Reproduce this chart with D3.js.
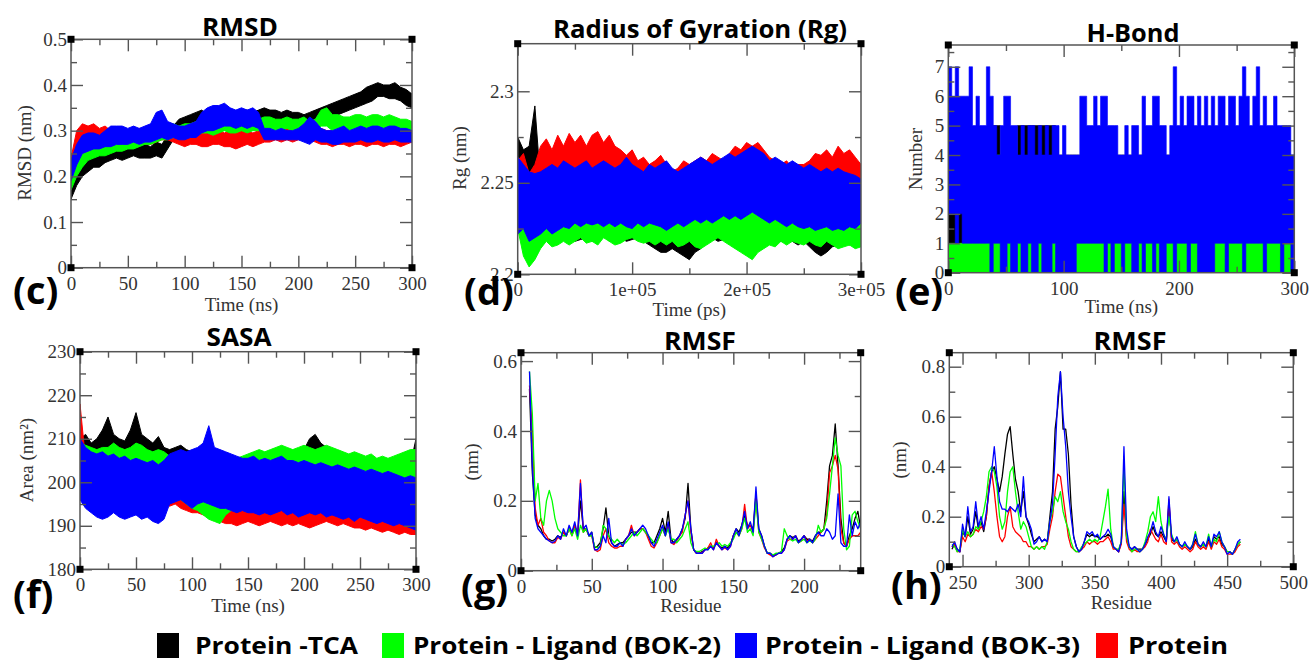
<!DOCTYPE html>
<html>
<head>
<meta charset="utf-8">
<script src="https://cdn.jsdelivr.net/npm/d3@7/dist/d3.min.js"></script>
<style>
  body { margin: 0; background: #fff; }
  svg { display: block; }
</style>
</head>
<body>
<svg id="fig" width="1311" height="662"></svg>
<script>
// series (legend order) and colours
var seriesNames = ["Protein -TCA", "Protein - Ligand (BOK-2)", "Protein - Ligand (BOK-3)", "Protein"];
var seriesColors = ["#000000", "#00ff00", "#0000ff", "#ff0000"];

// ---------- RMSD (nm), band low / high every 5 ns ----------
var rmsdStep = 5;
var rmsdTcaLo = [0.15,0.18,0.2,0.21,0.22,0.22,0.23,0.235,0.24,0.235, 0.24,0.245,0.24,0.24,0.24,0.245,0.24,0.26,0.28,0.29, 0.3,0.305,0.31,0.31,0.305,0.31,0.31,0.31,0.315,0.31, 0.31,0.315,0.31,0.315,0.315,0.32,0.315,0.31,0.315,0.31, 0.31,0.305,0.31,0.315,0.32,0.325,0.33,0.335,0.34,0.345, 0.35,0.355,0.36,0.365,0.375,0.375,0.37,0.37,0.365,0.355, 0.35];
var rmsdTcaHi = [0.2,0.22,0.24,0.245,0.26,0.255,0.26,0.265,0.27,0.26, 0.27,0.275,0.27,0.27,0.265,0.275,0.27,0.29,0.31,0.325, 0.33,0.335,0.34,0.345,0.335,0.34,0.345,0.34,0.345,0.34, 0.345,0.345,0.34,0.345,0.35,0.345,0.345,0.34,0.345,0.34, 0.34,0.335,0.34,0.345,0.35,0.355,0.36,0.365,0.37,0.375, 0.38,0.385,0.395,0.4,0.405,0.4,0.4,0.405,0.395,0.39, 0.38];
var rmsdBok2Lo = [0.17,0.2,0.22,0.235,0.24,0.245,0.245,0.25,0.255,0.255, 0.26,0.26,0.265,0.27,0.27,0.275,0.28,0.28,0.285,0.285, 0.29,0.29,0.29,0.295,0.295,0.29,0.295,0.3,0.295,0.295, 0.3,0.295,0.3,0.3,0.3,0.305,0.3,0.3,0.305,0.3, 0.3,0.3,0.295,0.3,0.31,0.31,0.3,0.305,0.305,0.3, 0.305,0.305,0.3,0.305,0.305,0.3,0.305,0.3,0.3,0.3, 0.3];
var rmsdBok2Hi = [0.22,0.25,0.26,0.27,0.275,0.28,0.275,0.28,0.285,0.285, 0.29,0.29,0.295,0.3,0.3,0.3,0.31,0.315,0.315,0.31, 0.315,0.315,0.32,0.32,0.32,0.315,0.32,0.325,0.32,0.32, 0.325,0.32,0.325,0.325,0.33,0.33,0.325,0.325,0.33,0.325, 0.325,0.33,0.32,0.325,0.345,0.35,0.335,0.335,0.33,0.33, 0.335,0.335,0.33,0.335,0.335,0.33,0.335,0.33,0.325,0.325, 0.32];
var rmsdBok3Lo = [0.19,0.225,0.25,0.255,0.26,0.26,0.265,0.265,0.27,0.27, 0.27,0.275,0.27,0.275,0.275,0.28,0.285,0.28,0.285,0.28, 0.28,0.285,0.285,0.295,0.3,0.3,0.305,0.31,0.31,0.305, 0.31,0.305,0.31,0.305,0.28,0.28,0.28,0.28,0.28,0.28, 0.28,0.275,0.27,0.28,0.275,0.275,0.27,0.27,0.275,0.275, 0.275,0.28,0.275,0.275,0.28,0.275,0.275,0.28,0.275,0.275, 0.275];
var rmsdBok3Hi = [0.235,0.27,0.29,0.295,0.295,0.29,0.3,0.31,0.31,0.31, 0.305,0.31,0.305,0.31,0.315,0.34,0.345,0.32,0.315,0.31, 0.31,0.315,0.32,0.34,0.35,0.355,0.355,0.36,0.35,0.345, 0.35,0.345,0.35,0.34,0.305,0.305,0.3,0.305,0.3,0.3, 0.305,0.315,0.33,0.32,0.305,0.3,0.3,0.305,0.31,0.3, 0.305,0.31,0.305,0.31,0.31,0.305,0.31,0.31,0.305,0.305, 0.3];
var rmsdProtLo = [0.21,0.24,0.26,0.265,0.26,0.255,0.26,0.265,0.27,0.27, 0.275,0.27,0.275,0.27,0.27,0.275,0.28,0.28,0.275,0.27, 0.265,0.27,0.27,0.265,0.265,0.27,0.27,0.265,0.265,0.26, 0.265,0.27,0.265,0.27,0.275,0.275,0.28,0.275,0.28,0.275, 0.28,0.28,0.28,0.275,0.27,0.27,0.265,0.27,0.27,0.265, 0.27,0.27,0.265,0.27,0.27,0.265,0.27,0.27,0.265,0.27, 0.275];
var rmsdProtHi = [0.24,0.3,0.315,0.31,0.315,0.305,0.31,0.3,0.3,0.305, 0.3,0.3,0.305,0.3,0.3,0.31,0.31,0.305,0.3,0.3, 0.295,0.3,0.3,0.3,0.295,0.3,0.3,0.295,0.3,0.295, 0.3,0.3,0.295,0.3,0.3,0.3,0.3,0.3,0.305,0.3, 0.305,0.31,0.305,0.3,0.305,0.3,0.3,0.3,0.305,0.3, 0.3,0.305,0.3,0.3,0.305,0.3,0.3,0.3,0.305,0.3, 0.3];

// ---------- Radius of gyration (nm), band low / high every 5000 ps ----------
var rgStep = 5000;
var rgTcaLo = [2.228,2.225,2.23,2.235,2.225,2.222,2.22,2.218,2.219,2.22, 2.218,2.219,2.22,2.218,2.22,2.222,2.218,2.219,2.22,2.218, 2.219,2.22,2.218,2.216,2.214,2.212,2.212,2.214,2.212,2.21, 2.208,2.212,2.214,2.218,2.22,2.218,2.219,2.22,2.218,2.22, 2.222,2.22,2.218,2.22,2.218,2.219,2.218,2.22,2.218,2.216, 2.218,2.215,2.212,2.21,2.212,2.215,2.216,2.218,2.216,2.218, 2.22];
var rgTcaHi = [2.275,2.268,2.27,2.292,2.25,2.245,2.242,2.244,2.242,2.244, 2.243,2.245,2.244,2.242,2.244,2.243,2.245,2.244,2.242,2.243, 2.244,2.242,2.243,2.24,2.238,2.236,2.235,2.236,2.236,2.234, 2.235,2.238,2.24,2.242,2.244,2.243,2.244,2.245,2.244,2.246, 2.248,2.246,2.244,2.245,2.243,2.244,2.243,2.244,2.242,2.24, 2.241,2.24,2.238,2.236,2.238,2.24,2.242,2.244,2.245,2.246, 2.25];
var rgBok2Lo = [2.225,2.21,2.204,2.208,2.214,2.218,2.215,2.216,2.218,2.216, 2.218,2.22,2.217,2.218,2.216,2.22,2.218,2.216,2.217,2.219, 2.22,2.218,2.217,2.218,2.216,2.218,2.216,2.218,2.215,2.216, 2.218,2.215,2.214,2.216,2.218,2.22,2.218,2.216,2.214,2.212, 2.21,2.208,2.212,2.214,2.216,2.215,2.218,2.216,2.218,2.217, 2.216,2.218,2.216,2.215,2.218,2.216,2.214,2.215,2.216,2.214, 2.215];
var rgBok2Hi = [2.25,2.255,2.24,2.238,2.236,2.238,2.234,2.235,2.236,2.238, 2.236,2.235,2.237,2.238,2.236,2.235,2.238,2.236,2.234,2.236, 2.238,2.24,2.238,2.236,2.237,2.24,2.236,2.235,2.234,2.236, 2.235,2.236,2.238,2.24,2.236,2.238,2.236,2.235,2.238,2.24, 2.242,2.244,2.242,2.24,2.238,2.236,2.238,2.236,2.238,2.235, 2.236,2.238,2.236,2.235,2.238,2.236,2.234,2.236,2.235,2.234, 2.236];
var rgBok3Lo = [2.222,2.225,2.218,2.22,2.222,2.225,2.222,2.224,2.226,2.225, 2.228,2.226,2.228,2.227,2.228,2.226,2.228,2.226,2.228,2.226, 2.225,2.228,2.226,2.228,2.227,2.226,2.224,2.226,2.228,2.226, 2.228,2.23,2.228,2.23,2.228,2.23,2.232,2.23,2.232,2.23, 2.232,2.234,2.232,2.23,2.228,2.23,2.228,2.226,2.228,2.226, 2.225,2.226,2.224,2.225,2.226,2.224,2.225,2.224,2.226,2.225, 2.228];
var rgBok3Hi = [2.264,2.26,2.256,2.255,2.256,2.258,2.26,2.258,2.262,2.26, 2.258,2.26,2.262,2.258,2.26,2.262,2.26,2.258,2.26,2.264, 2.26,2.258,2.256,2.26,2.258,2.26,2.262,2.258,2.256,2.258, 2.26,2.262,2.264,2.262,2.26,2.262,2.264,2.266,2.264,2.266, 2.268,2.27,2.268,2.266,2.262,2.264,2.262,2.26,2.262,2.26, 2.258,2.26,2.258,2.256,2.258,2.256,2.258,2.256,2.255,2.254, 2.252];
var rgProtLo = [2.238,2.242,2.24,2.244,2.246,2.245,2.244,2.246,2.245,2.246, 2.244,2.245,2.244,2.243,2.245,2.244,2.242,2.243,2.242,2.24, 2.241,2.24,2.24,2.238,2.24,2.239,2.238,2.236,2.238,2.24, 2.238,2.24,2.242,2.24,2.242,2.244,2.243,2.244,2.246,2.245, 2.248,2.246,2.245,2.244,2.242,2.24,2.241,2.24,2.24,2.238, 2.24,2.241,2.242,2.244,2.245,2.244,2.246,2.245,2.244,2.242, 2.24];
var rgProtHi = [2.262,2.266,2.255,2.26,2.27,2.274,2.268,2.276,2.27,2.277, 2.272,2.276,2.27,2.276,2.278,2.272,2.276,2.27,2.268,2.265, 2.268,2.262,2.264,2.26,2.262,2.265,2.26,2.256,2.258,2.262, 2.26,2.262,2.264,2.262,2.266,2.264,2.262,2.266,2.27,2.268, 2.272,2.27,2.272,2.268,2.264,2.262,2.26,2.262,2.258,2.26, 2.26,2.262,2.266,2.265,2.268,2.264,2.27,2.266,2.268,2.264, 2.26];

// ---------- H-bond number, low / high per 3 ns bin ----------
var hbStep = 3;
var hbTcaLo = [1,1,1,1,1,1,1,1,1,1, 1,1,1,1,1,1,1,1,1,1, 1,1,1,1,1,1,1,1,1,1, 1,1,1,1,1,1,1,1,1,1, 1,1,1,1,1,1,1,1,1,1, 1,1,1,1,1,1,1,1,1,1, 1,1,1,1,1,1,1,1,1,1, 1,1,1,1,1,1,1,1,1,1, 1,1,1,1,1,1,1,1,1,1, 1,1,1,1,1,1,1,1,1,1];
var hbTcaHi = [4,4,4,4,4,4,4,4,4,4, 4,4,4,5,5,4,4,4,4,4, 5,5,5,5,5,5,5,5,5,5, 5,4,4,4,4,4,4,4,4,4, 4,4,4,4,4,4,4,4,4,4, 4,4,4,4,4,4,4,4,4,4, 4,4,4,4,4,4,4,4,4,4, 4,4,4,4,4,4,4,4,4,4, 4,4,4,4,4,4,4,4,4,4, 4,4,4,4,4,4,4,4,4,4];
var hbBok2Lo = [0,0,0,0,0,0,0,0,0,0, 0,0,0,0,0,0,0,0,0,0, 0,0,0,0,0,0,0,0,0,0, 0,0,0,0,0,0,0,0,0,0, 0,0,0,0,0,0,0,0,0,0, 0,0,0,0,0,0,0,0,0,0, 0,0,0,0,0,0,0,0,0,0, 0,0,0,0,0,0,0,0,0,0, 0,0,0,0,0,0,0,0,0,0, 0,0,0,0,0,0,0,0,0,0];
var hbBok2Hi = [1,1,1,1,1,1,1,1,1,1, 1,2,1,1,4,1,1,1,1,1, 1,1,1,1,1,1,1,1,1,1, 1,1,1,1,1,1,1,1,1,1, 1,1,1,1,1,1,1,1,1,1, 1,1,1,1,1,1,1,1,1,1, 1,1,1,1,1,1,1,1,1,1, 1,1,1,1,1,1,1,1,1,1, 1,1,1,1,1,1,1,1,1,1, 1,1,1,1,1,1,1,1,1,1];
var hbBok3Lo = [2,2,1,2,1,1,1,1,1,1, 1,1,0,1,1,0,0,1,0,0, 1,0,0,1,0,0,1,0,0,0, 1,0,0,0,0,0,0,1,1,1, 1,1,1,1,1,0,1,0,1,1, 0,1,1,0,0,1,0,1,1,0, 1,0,0,1,1,0,1,1,1,0, 1,1,0,0,0,0,0,1,1,1, 0,1,1,1,1,0,1,1,1,1, 1,0,1,1,1,1,0,1,1,0];
var hbBok3Hi = [7,6,7,6,6,6,7,5,6,5, 5,7,6,5,4,5,6,6,5,5, 4,5,4,5,5,4,5,4,5,4, 5,5,4,5,4,4,4,4,6,6, 5,5,6,5,6,6,5,5,5,4, 4,5,4,5,5,4,6,5,5,6, 6,5,5,4,5,7,5,6,5,6, 6,5,6,5,6,5,6,5,6,6, 5,6,6,5,6,7,6,5,6,7, 5,6,5,5,6,5,5,5,5,4];

// ---------- SASA (nm^2), band low / high every 5 ns ----------
var sasaStep = 5;
var sasaTcaLo = [200,199,198,198.5,199,198.5,199,198,198.5,198, 198.5,198,198.5,198,197.5,197,196.5,196,196.5,196, 195.5,195,194.5,194,194,193.5,193.5,192.5,192,192.5, 192,191.5,192,193,193.5,194,194.5,195,195.5,196, 196,196.5,197,196.5,196,195.5,195,195,194.5,194, 193.5,193,192.5,192,192.5,191.5,191,190.5,190,189.5, 192];
var sasaTcaHi = [210,211,209,210,212,215,211,210,209.5,212, 216,211,210,209,210.5,208,207.5,208,208.5,207.5, 207,207.5,207,208,207.5,206,205.5,206,205,205.5, 206,206.5,206,206.5,205.5,206,206.5,206,206.5,207, 207.5,210,211,209,208,206.5,206,205.5,205,205.5, 204.5,204,204.5,204,203.5,204,204.5,205,205.5,204, 210];
var sasaBok2Lo = [199,197,196,195.5,195,194.5,195,194.5,195,195.5, 196,196.5,196,196.5,197,196.5,197,196.5,196,195, 194,193.5,192.5,191.5,191,190.5,192.5,193.5,194,194.5, 195,194.5,195,194.5,194,194.5,195,194.5,194,194.5, 194,193.5,194,193.5,193,193.5,193,192.5,193,192.5, 192,192.5,192,191.5,192,191.5,191,191.5,192,195, 196];
var sasaBok2Hi = [209,208.5,208,207.5,208,208,209,208,207.5,208, 209,208.5,207.5,207,207.5,207,206,206.5,207,206.5, 206,206.5,206,206.5,205.5,206,206.5,206,205.5,206, 206.5,207,207.5,207,207.5,208,208.5,208,207.5,208, 208.5,208,207.5,208,208.5,208,207.5,207,206.5,207, 206.5,206,206.5,205.5,206,205.5,206,206.5,207,207.5, 207.5];
var sasaBok3Lo = [196,194,193,192,191.5,192,193,192,191.5,192, 192.5,191.5,192,191,190.5,191.5,195,195.5,196,195, 194,195,195.5,195,194.5,194,194,193.5,193,193.5, 193,193,192.5,193,192.5,193,193.5,192.5,193,192, 192.5,193,192.5,193,192,192.5,192,191.5,192,191, 192,191.5,191,190.5,191,190.5,190,190.5,190,189.5, 189];
var sasaBok3Hi = [210,208,207,206.5,207,206,206.5,205.5,206,205, 205.5,205,204.5,205,204,205,206.5,207,207.5,207, 207.5,208,209,213,208,207.5,207,206.5,206,205.5, 205.5,206,205,205.5,205,205.5,206,205,205,204.5, 205,204.5,204,204.5,204,203.5,204,203.5,203,203.5, 203,202.5,203,202.5,202,202.5,202,201.5,201,201.5, 201];
var sasaProtLo = [202,196,194.5,194,193,193.5,194,193.5,194,194.5, 195,195.5,196,195.5,195,195.5,194.5,195,194,193.5, 193,193,192.5,192,191.5,191,190.5,190.5,190,190.5, 191,190.5,190,190.5,191,190.5,190,190.5,190,190.5, 190,189.5,190,190.5,191,190.5,190,190.5,190,189.5, 189.5,189,189.5,189,188.5,189,188.5,188,188.5,188, 188];
var sasaProtHi = [218,205,204,203.5,203,203.5,203,202.5,203,203.5, 204,203.5,203,203.5,203,202.5,203.5,204,206,205, 204.5,204,203.5,203,202.5,202,202.5,202,201.5,201, 201.5,201,200.5,201,200.5,200,200.5,200,200.5,201, 200.5,200,200.5,200,199.5,199,199.5,199,198.5,199, 198.5,198,198.5,198,197.5,197,197.5,197,196.5,196, 196];

// ---------- RMSF (g), residue 6..240 every 2 ----------
var gResStart = 6, gResStep = 2;
var gTca = [0.52,0.28,0.16,0.13,0.12,0.1,0.09,0.09,0.085,0.09, 0.1,0.095,0.11,0.1,0.12,0.11,0.13,0.1,0.2,0.12, 0.12,0.1,0.11,0.065,0.07,0.08,0.12,0.18,0.1,0.08, 0.07,0.075,0.08,0.08,0.09,0.1,0.11,0.11,0.11,0.12, 0.12,0.11,0.1,0.08,0.08,0.1,0.12,0.15,0.11,0.17, 0.09,0.08,0.09,0.1,0.12,0.15,0.25,0.12,0.06,0.05, 0.05,0.055,0.06,0.065,0.07,0.065,0.08,0.07,0.065,0.07, 0.065,0.075,0.1,0.12,0.11,0.13,0.16,0.13,0.13,0.12, 0.22,0.12,0.1,0.07,0.05,0.05,0.045,0.045,0.05,0.055, 0.065,0.09,0.1,0.095,0.1,0.085,0.09,0.1,0.09,0.09, 0.085,0.1,0.11,0.11,0.12,0.2,0.3,0.33,0.42,0.3, 0.15,0.08,0.07,0.1,0.12,0.15,0.17,0.12];
var gBok2 = [0.57,0.45,0.2,0.25,0.15,0.13,0.2,0.23,0.2,0.15, 0.12,0.11,0.1,0.1,0.12,0.1,0.12,0.09,0.13,0.11, 0.12,0.1,0.1,0.07,0.065,0.07,0.13,0.12,0.1,0.09, 0.08,0.09,0.08,0.075,0.08,0.09,0.1,0.11,0.1,0.11, 0.12,0.11,0.1,0.09,0.08,0.08,0.1,0.12,0.1,0.12, 0.09,0.09,0.08,0.09,0.1,0.12,0.14,0.08,0.06,0.055, 0.055,0.06,0.065,0.06,0.07,0.07,0.075,0.08,0.07,0.075, 0.07,0.08,0.09,0.11,0.1,0.12,0.15,0.11,0.12,0.1, 0.2,0.11,0.09,0.07,0.05,0.05,0.045,0.05,0.05,0.055, 0.12,0.1,0.09,0.085,0.09,0.08,0.085,0.09,0.08,0.085, 0.08,0.09,0.13,0.11,0.12,0.15,0.22,0.3,0.38,0.33, 0.3,0.12,0.06,0.07,0.16,0.17,0.14,0.12];
var gBok3 = [0.57,0.3,0.15,0.12,0.11,0.1,0.09,0.085,0.08,0.085, 0.1,0.09,0.12,0.1,0.13,0.11,0.14,0.1,0.25,0.12, 0.13,0.1,0.11,0.06,0.06,0.07,0.1,0.08,0.15,0.08, 0.07,0.07,0.08,0.07,0.09,0.1,0.12,0.1,0.11,0.12, 0.13,0.12,0.1,0.08,0.07,0.09,0.11,0.13,0.1,0.14, 0.08,0.08,0.09,0.1,0.12,0.16,0.2,0.12,0.06,0.05, 0.05,0.05,0.06,0.06,0.07,0.06,0.08,0.07,0.06,0.07, 0.06,0.07,0.1,0.12,0.1,0.13,0.17,0.12,0.14,0.11, 0.24,0.12,0.1,0.07,0.05,0.05,0.04,0.045,0.05,0.05, 0.06,0.09,0.1,0.09,0.1,0.08,0.09,0.1,0.08,0.09, 0.08,0.1,0.11,0.1,0.1,0.12,0.11,0.09,0.1,0.22, 0.08,0.07,0.07,0.16,0.1,0.14,0.12,0.14];
var gProt = [0.53,0.4,0.18,0.13,0.15,0.11,0.1,0.085,0.08,0.08, 0.095,0.09,0.11,0.1,0.12,0.1,0.13,0.1,0.26,0.11, 0.12,0.1,0.1,0.06,0.055,0.06,0.1,0.12,0.08,0.07, 0.065,0.065,0.07,0.07,0.09,0.1,0.13,0.1,0.11,0.12, 0.12,0.11,0.09,0.07,0.065,0.08,0.1,0.12,0.1,0.13, 0.08,0.075,0.085,0.1,0.11,0.16,0.2,0.11,0.06,0.05, 0.05,0.05,0.06,0.065,0.08,0.06,0.09,0.07,0.06,0.065, 0.06,0.07,0.1,0.11,0.1,0.12,0.19,0.12,0.13,0.11, 0.21,0.11,0.09,0.065,0.05,0.045,0.04,0.045,0.05,0.05, 0.06,0.085,0.09,0.09,0.1,0.08,0.085,0.1,0.085,0.09, 0.08,0.09,0.1,0.11,0.12,0.16,0.28,0.3,0.33,0.29, 0.12,0.08,0.07,0.09,0.1,0.1,0.1,0.11];

// ---------- RMSF (h), residue 242..460 every 2 ----------
var hResStart = 242, hResStep = 2;
var hTca = [0.07,0.09,0.07,0.06,0.14,0.12,0.2,0.13,0.15,0.22, 0.15,0.18,0.14,0.2,0.32,0.38,0.4,0.35,0.3,0.36, 0.45,0.53,0.56,0.45,0.35,0.3,0.22,0.3,0.2,0.17, 0.13,0.1,0.11,0.12,0.1,0.11,0.1,0.2,0.3,0.55, 0.64,0.78,0.55,0.55,0.45,0.25,0.12,0.08,0.06,0.07, 0.1,0.13,0.12,0.13,0.12,0.12,0.11,0.12,0.12,0.13, 0.12,0.08,0.07,0.06,0.1,0.3,0.12,0.08,0.07,0.08, 0.07,0.07,0.07,0.09,0.11,0.13,0.16,0.13,0.12,0.14, 0.12,0.1,0.25,0.11,0.1,0.11,0.09,0.08,0.09,0.08, 0.07,0.08,0.11,0.09,0.08,0.09,0.08,0.11,0.08,0.12, 0.11,0.12,0.09,0.08,0.06,0.06,0.05,0.07,0.09,0.1];
var hBok2 = [0.09,0.08,0.06,0.07,0.15,0.12,0.14,0.12,0.13,0.16, 0.15,0.18,0.22,0.28,0.38,0.4,0.38,0.32,0.2,0.15, 0.18,0.3,0.38,0.4,0.3,0.22,0.15,0.18,0.16,0.12, 0.08,0.07,0.08,0.07,0.08,0.07,0.1,0.18,0.22,0.28, 0.26,0.3,0.22,0.18,0.15,0.1,0.07,0.06,0.06,0.08, 0.09,0.1,0.11,0.1,0.11,0.1,0.12,0.18,0.24,0.31, 0.15,0.08,0.07,0.07,0.1,0.41,0.12,0.08,0.06,0.07, 0.07,0.06,0.07,0.1,0.14,0.2,0.22,0.18,0.28,0.18, 0.13,0.11,0.2,0.13,0.1,0.11,0.09,0.08,0.09,0.08, 0.07,0.09,0.14,0.09,0.08,0.09,0.08,0.13,0.08,0.11, 0.1,0.14,0.1,0.08,0.06,0.06,0.05,0.07,0.09,0.1];
var hBok3 = [0.08,0.1,0.07,0.06,0.17,0.12,0.24,0.14,0.16,0.26, 0.16,0.2,0.15,0.22,0.3,0.38,0.48,0.36,0.26,0.23, 0.23,0.22,0.24,0.23,0.22,0.25,0.2,0.36,0.2,0.18, 0.15,0.09,0.1,0.12,0.1,0.11,0.1,0.18,0.25,0.45, 0.68,0.78,0.6,0.48,0.3,0.2,0.12,0.08,0.06,0.07, 0.1,0.14,0.13,0.14,0.12,0.13,0.11,0.12,0.13,0.15, 0.13,0.08,0.07,0.06,0.1,0.48,0.15,0.08,0.07,0.08, 0.07,0.06,0.07,0.09,0.12,0.14,0.18,0.14,0.12,0.16, 0.13,0.1,0.28,0.12,0.1,0.12,0.09,0.08,0.1,0.08, 0.07,0.09,0.13,0.09,0.08,0.1,0.08,0.12,0.08,0.13, 0.12,0.14,0.1,0.08,0.05,0.06,0.05,0.07,0.1,0.11];
var hProt = [0.08,0.09,0.06,0.06,0.12,0.1,0.13,0.12,0.13,0.15, 0.14,0.16,0.15,0.2,0.32,0.38,0.3,0.2,0.12,0.1, 0.12,0.2,0.24,0.16,0.14,0.13,0.12,0.1,0.1,0.08, 0.08,0.07,0.08,0.07,0.08,0.08,0.09,0.15,0.2,0.3, 0.37,0.36,0.28,0.2,0.12,0.08,0.07,0.06,0.06,0.07, 0.08,0.1,0.09,0.1,0.1,0.09,0.1,0.1,0.11,0.12, 0.1,0.07,0.07,0.06,0.09,0.25,0.1,0.07,0.06,0.07, 0.06,0.06,0.07,0.08,0.1,0.15,0.13,0.11,0.1,0.13, 0.1,0.09,0.27,0.1,0.09,0.1,0.08,0.07,0.08,0.07, 0.06,0.07,0.1,0.08,0.07,0.08,0.07,0.1,0.07,0.1, 0.09,0.11,0.08,0.07,0.05,0.05,0.05,0.06,0.08,0.09];

// tick labels
var rgXTickLabels = ["0", "1e+05", "2e+05", "3e+05"];

var svg = d3.select("#fig");
var serif = "'Liberation Serif','DejaVu Serif',serif";
var sans = "'Open Sans','DejaVu Sans',sans-serif";
var frameColor = "#555";
var drawOrder = [0, 3, 1, 2]; // black, red, green, blue on top

// band traces (dense MD time series)
function drawBands(plot, x, y, lows, highs, step, stepped) {
  drawOrder.forEach(function (k) {
    if (!lows[k]) return;
    var data = lows[k].map(function (v, i) {
      return { t: i * step, lo: v, hi: highs[k][i] };
    });
    var area = d3.area()
      .x(function (d) { return x(d.t); })
      .y0(function (d) { return y(d.lo); })
      .y1(function (d) { return y(d.hi); });
    if (stepped) {
      var last = data[data.length - 1];
      data.push({ t: last.t + step, lo: last.lo, hi: last.hi });
      area.curve(d3.curveStepAfter);
    }
    plot.append("path")
      .datum(data)
      .attr("d", area)
      .attr("fill", seriesColors[k])
      .attr("stroke", seriesColors[k])
      .attr("stroke-width", stepped ? 0.6 : 1)
      .attr("stroke-linejoin", "miter");
  });
}

// RMSF lines
function drawLines(plot, x, y, series, start, step) {
  drawOrder.forEach(function (k) {
    var line = d3.line()
      .x(function (d, i) { return x(start + i * step); })
      .y(function (d) { return y(d); });
    plot.append("path")
      .datum(series[k])
      .attr("d", line)
      .attr("fill", "none")
      .attr("stroke", seriesColors[k])
      .attr("stroke-width", 1.3)
      .attr("stroke-linejoin", "round");
  });
}

function styleAxis(g) {
  g.select(".domain").remove();
  g.selectAll(".tick line").attr("stroke", frameColor).attr("stroke-width", 1.4);
  g.selectAll(".tick text")
    .style("font-family", serif)
    .style("font-size", "19px")
    .attr("fill", "#333");
}

function panel(p) {
  var x = d3.scaleLinear().domain(p.xDomain).range([p.left, p.right]);
  var y = d3.scaleLinear().domain(p.yDomain).range([p.bottom, p.top]);
  var g = svg.append("g");

  g.append("clipPath").attr("id", "clip-" + p.id)
    .append("rect")
    .attr("x", p.left).attr("y", p.top)
    .attr("width", p.right - p.left).attr("height", p.bottom - p.top);
  var plot = g.append("g").attr("clip-path", "url(#clip-" + p.id + ")");
  p.draw(plot, x, y);

  // ticks, inward on all four sides
  var xf = p.xLabels ? function (d, i) { return p.xLabels[i]; } : p.xFormat;
  g.append("g").attr("transform", "translate(0," + p.bottom + ")")
    .call(d3.axisBottom(x).tickValues(p.xMinor).tickSize(-6).tickFormat("")).call(styleAxis);
  g.append("g").attr("transform", "translate(0," + p.bottom + ")")
    .call(d3.axisBottom(x).tickValues(p.xTicks).tickSize(-12).tickPadding(8.5).tickFormat(xf)).call(styleAxis);
  g.append("g").attr("transform", "translate(0," + p.top + ")")
    .call(d3.axisTop(x).tickValues(p.xMinor).tickSize(-6).tickFormat("")).call(styleAxis);
  g.append("g").attr("transform", "translate(0," + p.top + ")")
    .call(d3.axisTop(x).tickValues(p.xTicks).tickSize(-12).tickFormat("")).call(styleAxis);
  g.append("g").attr("transform", "translate(" + p.left + ",0)")
    .call(d3.axisLeft(y).tickValues(p.yMinor).tickSize(-6).tickFormat("")).call(styleAxis);
  g.append("g").attr("transform", "translate(" + p.left + ",0)")
    .call(d3.axisLeft(y).tickValues(p.yTicks).tickSize(-12).tickPadding(4).tickFormat(p.yFormat)).call(styleAxis);
  g.append("g").attr("transform", "translate(" + p.right + ",0)")
    .call(d3.axisRight(y).tickValues(p.yMinor).tickSize(-6).tickFormat("")).call(styleAxis);
  g.append("g").attr("transform", "translate(" + p.right + ",0)")
    .call(d3.axisRight(y).tickValues(p.yTicks).tickSize(-12).tickFormat("")).call(styleAxis);

  // frame
  g.append("rect")
    .attr("x", p.left).attr("y", p.top)
    .attr("width", p.right - p.left).attr("height", p.bottom - p.top)
    .attr("fill", "none").attr("stroke", frameColor).attr("stroke-width", 1.5);

  // little black corner handles
  [[p.left, p.top], [p.right, p.top], [p.left, p.bottom], [p.right, p.bottom]].forEach(function (c) {
    g.append("rect").attr("x", c[0] - 3.5).attr("y", c[1] - 3.5)
      .attr("width", 7).attr("height", 7).attr("fill", "#000");
  });

  // title
  g.append("text")
    .attr("x", p.title.x).attr("y", p.title.y)
    .attr("text-anchor", "middle")
    .attr("textLength", p.title.w).attr("lengthAdjust", "spacingAndGlyphs")
    .style("font-family", sans).style("font-weight", 700).style("font-size", "25px")
    .attr("fill", "#000")
    .text(p.title.text);

  // axis titles
  g.append("text")
    .attr("x", (p.left + p.right) / 2).attr("y", p.xTitleY)
    .attr("text-anchor", "middle")
    .style("font-family", serif).style("font-size", "19px").attr("fill", "#333")
    .text(p.xTitle);
  g.append("text")
    .attr("transform", "translate(" + p.yTitlePos[0] + "," + p.yTitlePos[1] + ")rotate(-90)")
    .attr("dy", "0.35em")
    .attr("text-anchor", "middle")
    .style("font-family", serif).style("font-size", "19px").attr("fill", "#333")
    .text(p.yTitle);

  // panel letter
  g.append("text")
    .attr("x", p.letter[1]).attr("y", p.letter[2])
    .style("font-family", sans).style("font-weight", 700).style("font-size", "38px")
    .attr("fill", "#000")
    .text(p.letter[0]);
}

var fmt1 = function (d) { return d === 0 ? "0" : d3.format(".1f")(d); };
var fmtInt = function (d) { return String(d); };

// (c) RMSD
panel({
  id: "c", left: 71, right: 412, top: 39.3, bottom: 267.7,
  xDomain: [0, 300], yDomain: [0, 0.5],
  xTicks: [0, 50, 100, 150, 200, 250, 300], xMinor: d3.range(25, 300, 50), xFormat: fmtInt,
  yTicks: [0, 0.1, 0.2, 0.3, 0.4, 0.5], yMinor: d3.range(0.05, 0.5, 0.1), yFormat: fmt1,
  title: { text: "RMSD", x: 240, y: 36, w: 76 },
  xTitle: "Time (ns)", xTitleY: 311, yTitle: "RMSD (nm)", yTitlePos: [24, 153],
  letter: ["(c)", 13, 304],
  draw: function (plot, x, y) {
    drawBands(plot, x, y, [rmsdTcaLo, rmsdBok2Lo, rmsdBok3Lo, rmsdProtLo],
      [rmsdTcaHi, rmsdBok2Hi, rmsdBok3Hi, rmsdProtHi], rmsdStep, false);
  }
});

// (d) Radius of gyration
panel({
  id: "d", left: 517.7, right: 861, top: 43.7, bottom: 274.3,
  xDomain: [0, 300000], yDomain: [2.2, 2.326],
  xTicks: [0, 100000, 200000, 300000], xMinor: [50000, 150000, 250000], xLabels: rgXTickLabels,
  yTicks: [2.2, 2.25, 2.3], yMinor: [2.225, 2.275], yFormat: function (d) { return String(d); },
  title: { text: "Radius of Gyration (Rg)", x: 700, y: 38, w: 294 },
  xTitle: "Time (ps)", xTitleY: 316, yTitle: "Rg (nm)", yTitlePos: [459, 158],
  letter: ["(d)", 464, 305],
  draw: function (plot, x, y) {
    drawBands(plot, x, y, [rgTcaLo, rgBok2Lo, rgBok3Lo, rgProtLo],
      [rgTcaHi, rgBok2Hi, rgBok3Hi, rgProtHi], rgStep, false);
  }
});

// (e) H-bond
panel({
  id: "e", left: 948.3, right: 1294.3, top: 45, bottom: 272.7,
  xDomain: [0, 300], yDomain: [0, 7.74],
  xTicks: [0, 100, 200, 300], xMinor: [50, 150, 250], xFormat: fmtInt,
  yTicks: [0, 1, 2, 3, 4, 5, 6, 7], yMinor: d3.range(0.5, 7.6, 1), yFormat: fmtInt,
  title: { text: "H-Bond", x: 1133, y: 41.5, w: 93 },
  xTitle: "Time (ns)", xTitleY: 313, yTitle: "Number", yTitlePos: [915, 159],
  letter: ["(e)", 895, 305],
  draw: function (plot, x, y) {
    drawBands(plot, x, y, [hbTcaLo, hbBok2Lo, hbBok3Lo, null],
      [hbTcaHi, hbBok2Hi, hbBok3Hi, null], hbStep, true);
  }
});

// (f) SASA
panel({
  id: "f", left: 80, right: 416, top: 351.7, bottom: 569.3,
  xDomain: [0, 300], yDomain: [180, 230],
  xTicks: [0, 50, 100, 150, 200, 250, 300], xMinor: d3.range(25, 300, 50), xFormat: fmtInt,
  yTicks: [180, 190, 200, 210, 220, 230], yMinor: d3.range(185, 230, 10), yFormat: fmtInt,
  title: { text: "SASA", x: 239, y: 345.5, w: 65 },
  xTitle: "Time (ns)", xTitleY: 612, yTitle: "Area (nm\u00b2)", yTitlePos: [26, 460],
  letter: ["(f)", 13, 608],
  draw: function (plot, x, y) {
    drawBands(plot, x, y, [sasaTcaLo, sasaBok2Lo, sasaBok3Lo, sasaProtLo],
      [sasaTcaHi, sasaBok2Hi, sasaBok3Hi, sasaProtHi], sasaStep, false);
  }
});

// (g) RMSF
panel({
  id: "g", left: 521, right: 860.7, top: 352.7, bottom: 570.7,
  xDomain: [0, 240], yDomain: [0, 0.624],
  xTicks: [0, 50, 100, 150, 200], xMinor: d3.range(25, 240, 50), xFormat: fmtInt,
  yTicks: [0, 0.2, 0.4, 0.6], yMinor: [0.1, 0.3, 0.5], yFormat: fmt1,
  title: { text: "RMSF", x: 700, y: 350, w: 72 },
  xTitle: "Residue", xTitleY: 612, yTitle: "(nm)", yTitlePos: [471, 462],
  letter: ["(g)", 461, 601],
  draw: function (plot, x, y) {
    drawLines(plot, x, y, [gTca, gBok2, gBok3, gProt], gResStart, gResStep);
  }
});

// (h) RMSF
panel({
  id: "h", left: 949.3, right: 1293.3, top: 352.7, bottom: 566.7,
  xDomain: [240, 500], yDomain: [0, 0.856],
  xTicks: [250, 300, 350, 400, 450, 500], xMinor: d3.range(275, 500, 50), xFormat: fmtInt,
  yTicks: [0, 0.2, 0.4, 0.6, 0.8], yMinor: [0.1, 0.3, 0.5, 0.7], yFormat: fmt1,
  title: { text: "RMSF", x: 1130, y: 350, w: 73 },
  xTitle: "Residue", xTitleY: 609, yTitle: "(nm)", yTitlePos: [899, 460],
  letter: ["(h)", 891, 599],
  draw: function (plot, x, y) {
    drawLines(plot, x, y, [hTca, hBok2, hBok3, hProt], hResStart, hResStep);
  }
});

// legend along the bottom
var legendPos = [
  { sq: 157, tx: 195, w: 163 },
  { sq: 382, tx: 413, w: 308 },
  { sq: 735, tx: 765, w: 315 },
  { sq: 1096, tx: 1128, w: 100 }
];
var legend = svg.append("g");
seriesNames.forEach(function (name, i) {
  legend.append("rect")
    .attr("x", legendPos[i].sq).attr("y", 633)
    .attr("width", 22).attr("height", 25)
    .attr("fill", seriesColors[i]);
  legend.append("text")
    .attr("x", legendPos[i].tx).attr("y", 654)
    .attr("textLength", legendPos[i].w).attr("lengthAdjust", "spacingAndGlyphs")
    .style("font-family", sans).style("font-weight", 700).style("font-size", "24px")
    .attr("fill", "#000")
    .text(name);
});
</script>
</body>
</html>
